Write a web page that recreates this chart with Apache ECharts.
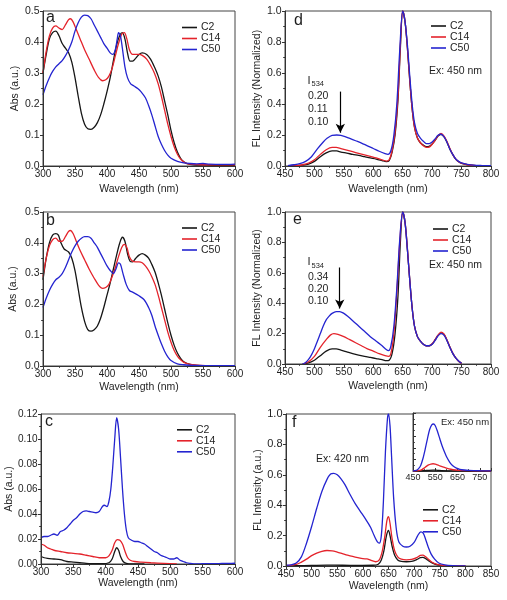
<!DOCTYPE html>
<html><head><meta charset="utf-8">
<script src="https://cdn.jsdelivr.net/npm/echarts@6/dist/echarts.min.js"></script>
<style>html,body{margin:0;padding:0;background:#fff}#c{width:507px;height:600px}</style>
</head><body><div id="c"></div>
<script>
// ---------- DATA ----------
const seriesNames = ['C2', 'C14', 'C50'];
const absRangeX = [300, 600, 50];
const flRangeX = [450, 800, 50];
const flRangeXf = [450, 850, 50];
const insetRangeX = [450, 800, 100];
const absRangeY = [0, 0.5, 0.1];
const absRangeYc = [0, 0.12, 0.02];
const flRangeY = [0, 1.0, 0.2];

// panel a: absorbance
const a_C2 = [[300,0.30],[305,0.36],[310,0.41],[315,0.43],[320,0.435],[325,0.42],[330,0.395],[335,0.38],[340,0.365],[345,0.335],[350,0.285],[355,0.225],[360,0.17],[365,0.135],[370,0.12],[375,0.118],[380,0.125],[385,0.14],[390,0.165],[395,0.2],[400,0.24],[405,0.285],[410,0.34],[415,0.39],[420,0.422],[424,0.43],[428,0.41],[432,0.365],[436,0.338],[440,0.338],[445,0.348],[450,0.36],[455,0.365],[462,0.36],[468,0.345],[474,0.32],[480,0.29],[485,0.255],[490,0.21],[495,0.165],[500,0.115],[505,0.075],[510,0.045],[515,0.025],[520,0.014],[525,0.008],[535,0.004],[550,0.003],[575,0.002],[600,0.002]];
const a_C14 = [[300,0.30],[305,0.37],[310,0.42],[315,0.445],[320,0.452],[325,0.445],[330,0.44],[335,0.455],[340,0.472],[343,0.475],[347,0.465],[352,0.44],[358,0.41],[365,0.375],[372,0.345],[380,0.31],[387,0.285],[393,0.275],[398,0.278],[403,0.29],[408,0.315],[413,0.355],[418,0.395],[423,0.425],[427,0.43],[431,0.41],[435,0.375],[440,0.36],[445,0.36],[450,0.36],[455,0.357],[462,0.345],[468,0.325],[474,0.3],[480,0.265],[485,0.225],[490,0.18],[495,0.135],[500,0.095],[505,0.062],[510,0.038],[515,0.022],[520,0.013],[525,0.008],[535,0.005],[550,0.004],[600,0.004]];
const a_C50 = [[300,0.23],[305,0.26],[310,0.285],[315,0.305],[320,0.32],[325,0.33],[330,0.34],[335,0.355],[340,0.375],[345,0.40],[350,0.435],[355,0.462],[360,0.48],[365,0.487],[370,0.485],[375,0.475],[380,0.455],[385,0.435],[390,0.415],[395,0.395],[400,0.38],[405,0.365],[409,0.36],[413,0.375],[416,0.41],[418,0.43],[421,0.42],[424,0.38],[428,0.32],[432,0.285],[437,0.265],[442,0.258],[448,0.25],[453,0.24],[460,0.22],[465,0.195],[470,0.165],[475,0.13],[480,0.095],[485,0.07],[490,0.05],[495,0.035],[500,0.025],[510,0.015],[520,0.01],[530,0.008],[540,0.007],[550,0.008],[560,0.006],[580,0.005],[600,0.006]];

// panel b: absorbance
const b_C2 = [[300,0.28],[305,0.35],[310,0.40],[315,0.425],[320,0.43],[324,0.425],[328,0.40],[333,0.38],[340,0.37],[345,0.35],[350,0.31],[355,0.25],[360,0.19],[365,0.145],[370,0.118],[375,0.113],[380,0.118],[385,0.13],[390,0.155],[395,0.19],[400,0.23],[405,0.27],[410,0.315],[415,0.36],[420,0.40],[424,0.418],[428,0.405],[432,0.365],[436,0.34],[440,0.338],[445,0.35],[450,0.36],[455,0.365],[460,0.36],[465,0.35],[470,0.33],[475,0.305],[480,0.27],[485,0.23],[490,0.185],[495,0.14],[500,0.10],[505,0.067],[510,0.042],[515,0.025],[520,0.014],[530,0.005],[540,0.002],[560,0.001],[600,0.001]];
const b_C14 = [[300,0.29],[305,0.35],[310,0.39],[315,0.41],[320,0.415],[325,0.405],[330,0.405],[335,0.42],[340,0.437],[343,0.44],[347,0.43],[352,0.405],[358,0.375],[365,0.345],[372,0.315],[380,0.285],[387,0.262],[393,0.252],[398,0.255],[403,0.265],[408,0.29],[413,0.32],[418,0.355],[423,0.385],[427,0.395],[431,0.385],[435,0.355],[440,0.34],[445,0.338],[450,0.338],[455,0.335],[460,0.325],[465,0.31],[470,0.29],[475,0.265],[480,0.23],[485,0.19],[490,0.15],[495,0.11],[500,0.077],[505,0.05],[510,0.032],[515,0.02],[520,0.012],[530,0.005],[545,0.002],[600,0.001]];
const b_C50 = [[300,0.19],[305,0.22],[310,0.245],[315,0.265],[320,0.28],[325,0.288],[330,0.30],[335,0.32],[340,0.345],[345,0.37],[350,0.39],[355,0.405],[360,0.415],[365,0.42],[370,0.42],[375,0.415],[380,0.40],[385,0.385],[390,0.365],[395,0.345],[400,0.325],[405,0.31],[410,0.30],[414,0.315],[418,0.335],[421,0.33],[425,0.30],[430,0.265],[435,0.245],[440,0.24],[450,0.228],[458,0.215],[465,0.19],[470,0.165],[475,0.13],[480,0.10],[485,0.072],[490,0.048],[495,0.03],[500,0.018],[510,0.007],[520,0.004],[535,0.002],[600,0.001]];

// panel c: absorbance (dilute)
const c_C2 = [[300,0.006],[305,0.005],[310,0.0045],[320,0.004],[330,0.0035],[340,0.002],[350,0.0015],[360,0.001],[370,0.0005],[380,0.0003],[395,0.0002],[405,0.001],[410,0.004],[414,0.010],[417,0.013],[420,0.011],[423,0.006],[427,0.002],[432,0.0005],[440,0],[460,0]];
const c_C14 = [[300,0.016],[305,0.015],[310,0.013],[315,0.012],[320,0.011],[330,0.010],[340,0.009],[350,0.0085],[360,0.008],[370,0.007],[380,0.006],[390,0.005],[400,0.005],[405,0.0065],[410,0.011],[414,0.017],[418,0.0195],[422,0.019],[426,0.016],[430,0.010],[434,0.005],[438,0.003],[445,0.002],[455,0.0015],[470,0.001],[490,0.0005],[510,0]];
const c_C50 = [[300,0.021],[305,0.022],[310,0.022],[315,0.023],[320,0.024],[325,0.023],[330,0.026],[335,0.027],[340,0.029],[345,0.032],[350,0.035],[355,0.037],[360,0.040],[365,0.042],[370,0.0425],[375,0.042],[380,0.0415],[385,0.041],[390,0.042],[395,0.046],[398,0.047],[402,0.046],[405,0.050],[408,0.060],[411,0.078],[414,0.100],[417,0.117],[420,0.108],[423,0.085],[426,0.060],[429,0.040],[432,0.027],[435,0.021],[440,0.019],[445,0.018],[450,0.018],[455,0.017],[460,0.016],[465,0.014],[470,0.012],[475,0.010],[480,0.009],[485,0.007],[490,0.006],[495,0.005],[500,0.004],[505,0.004],[510,0.005],[515,0.003],[520,0.002],[525,0.001],[530,0.0005],[540,0],[550,0.0002],[560,0.0002],[570,0.0003],[580,0.0004],[590,0.0005],[600,0.0006]];

// panel d: normalized FL (Ex 450)
const d_C2 = [[455,0.001],[470,0.002],[480,0.005],[490,0.012],[500,0.03],[510,0.06],[520,0.085],[530,0.098],[538,0.097],[545,0.09],[555,0.083],[565,0.075],[575,0.068],[585,0.06],[595,0.052],[605,0.045],[615,0.035],[622,0.028],[627,0.035],[632,0.09],[637,0.2],[642,0.43],[646,0.76],[650,1.0],[654,0.93],[658,0.76],[662,0.55],[666,0.37],[670,0.25],[675,0.18],[680,0.15],[685,0.135],[690,0.125],[695,0.127],[700,0.142],[705,0.165],[710,0.193],[715,0.205],[720,0.19],[725,0.155],[730,0.11],[735,0.073],[740,0.044],[745,0.027],[750,0.017],[760,0.008],[775,0.003],[800,0.001]];
const d_C14 = [[455,0.001],[470,0.003],[480,0.008],[490,0.018],[500,0.04],[510,0.075],[520,0.105],[530,0.12],[537,0.12],[545,0.112],[555,0.102],[565,0.092],[575,0.082],[585,0.072],[595,0.062],[605,0.052],[615,0.04],[622,0.032],[627,0.04],[632,0.1],[637,0.22],[642,0.45],[646,0.78],[650,1.0],[654,0.93],[658,0.76],[662,0.55],[666,0.37],[670,0.25],[675,0.18],[680,0.15],[685,0.13],[690,0.12],[695,0.122],[700,0.14],[705,0.165],[710,0.195],[715,0.21],[720,0.195],[725,0.16],[730,0.115],[735,0.075],[740,0.045],[745,0.028],[750,0.018],[760,0.008],[775,0.003],[800,0.001]];
const d_C50 = [[455,0.003],[465,0.008],[475,0.015],[485,0.03],[495,0.06],[505,0.11],[515,0.155],[522,0.18],[530,0.198],[538,0.2],[545,0.198],[552,0.19],[560,0.178],[570,0.163],[580,0.148],[590,0.13],[600,0.113],[610,0.095],[620,0.08],[625,0.075],[630,0.1],[635,0.2],[640,0.4],[645,0.75],[650,1.0],[654,0.93],[658,0.78],[662,0.58],[666,0.4],[670,0.28],[675,0.21],[680,0.18],[685,0.16],[690,0.145],[695,0.145],[700,0.155],[705,0.175],[710,0.198],[715,0.205],[720,0.19],[725,0.155],[730,0.11],[735,0.075],[740,0.045],[745,0.03],[750,0.02],[760,0.01],[770,0.005],[785,0.003],[800,0.002]];

// panel e: normalized FL (Ex 450)
const e_C2 = [[480,0],[490,0.008],[500,0.025],[510,0.055],[520,0.085],[530,0.1],[537,0.1],[545,0.092],[555,0.08],[565,0.068],[575,0.058],[585,0.05],[595,0.043],[605,0.036],[615,0.029],[622,0.022],[627,0.025],[632,0.07],[637,0.2],[642,0.45],[646,0.8],[650,1.0],[654,0.93],[658,0.75],[662,0.55],[666,0.37],[670,0.25],[675,0.18],[680,0.15],[685,0.13],[690,0.12],[695,0.12],[700,0.132],[705,0.158],[710,0.188],[715,0.205],[720,0.195],[725,0.158],[730,0.112],[735,0.07],[740,0.04],[745,0.018],[750,0.004]];
const e_C14 = [[480,0],[490,0.015],[500,0.05],[510,0.11],[520,0.16],[527,0.19],[533,0.2],[540,0.195],[550,0.18],[560,0.16],[570,0.14],[580,0.12],[590,0.1],[600,0.085],[610,0.068],[620,0.055],[626,0.05],[630,0.07],[635,0.2],[640,0.47],[645,0.8],[650,1.0],[654,0.93],[658,0.76],[662,0.55],[666,0.37],[670,0.25],[675,0.18],[680,0.15],[685,0.13],[690,0.12],[695,0.12],[700,0.133],[705,0.16],[710,0.19],[715,0.21],[720,0.198],[725,0.16],[730,0.113],[735,0.072],[740,0.04],[745,0.018],[750,0.004]];
const e_C50 = [[480,0],[485,0.01],[490,0.03],[495,0.06],[500,0.1],[505,0.15],[510,0.2],[515,0.25],[520,0.29],[525,0.315],[530,0.333],[537,0.345],[543,0.345],[550,0.333],[557,0.312],[565,0.285],[575,0.25],[585,0.215],[595,0.18],[605,0.15],[615,0.12],[622,0.095],[626,0.088],[630,0.12],[635,0.25],[640,0.5],[645,0.82],[650,1.0],[654,0.93],[658,0.75],[662,0.55],[666,0.37],[670,0.25],[675,0.18],[680,0.15],[685,0.13],[690,0.12],[695,0.12],[700,0.13],[705,0.155],[710,0.185],[715,0.2],[720,0.19],[725,0.155],[730,0.11],[735,0.07],[740,0.04],[745,0.02],[750,0.005]];

// panel f: FL intensity (Ex 420)
const f_C2 = [[450,0],[470,0.002],[500,0.004],[530,0.006],[560,0.005],[590,0.004],[620,0.005],[630,0.012],[636,0.04],[641,0.1],[646,0.2],[650,0.235],[653,0.2],[657,0.13],[662,0.07],[668,0.04],[675,0.03],[685,0.028],[695,0.03],[705,0.042],[712,0.055],[717,0.057],[722,0.05],[728,0.035],[735,0.02],[745,0.008],[760,0.002],[800,0]];
const f_C14 = [[450,0.002],[470,0.01],[480,0.025],[490,0.045],[500,0.068],[510,0.085],[520,0.097],[530,0.102],[540,0.1],[550,0.092],[560,0.082],[570,0.072],[580,0.063],[590,0.055],[600,0.048],[608,0.047],[615,0.038],[625,0.028],[632,0.04],[638,0.1],[643,0.2],[647,0.3],[650,0.325],[653,0.28],[657,0.18],[662,0.1],[668,0.06],[675,0.045],[685,0.04],[695,0.043],[705,0.055],[712,0.07],[717,0.072],[722,0.062],[728,0.045],[735,0.025],[745,0.01],[760,0.003],[800,0]];
const f_C50 = [[450,0.005],[460,0.008],[470,0.02],[480,0.06],[490,0.15],[500,0.26],[510,0.38],[520,0.49],[530,0.57],[537,0.605],[543,0.61],[550,0.6],[557,0.575],[565,0.535],[575,0.47],[585,0.41],[595,0.36],[605,0.31],[615,0.255],[622,0.2],[628,0.16],[632,0.15],[636,0.2],[640,0.42],[644,0.75],[648,0.97],[650,1.0],[653,0.92],[656,0.72],[660,0.45],[665,0.25],[670,0.16],[678,0.13],[685,0.125],[692,0.13],[700,0.155],[707,0.2],[713,0.225],[718,0.215],[723,0.17],[728,0.12],[733,0.08],[740,0.045],[748,0.02],[760,0.008],[775,0.003],[800,0]];

// inset of f: FL intensity (Ex 450)
const i_C2 = [[450,0],[480,0.002],[500,0.005],[520,0.012],[540,0.016],[560,0.012],[580,0.008],[620,0.003],[700,0],[800,0]];
const i_C14 = [[450,0],[470,0.004],[480,0.01],[490,0.025],[500,0.05],[510,0.08],[520,0.105],[530,0.12],[540,0.125],[550,0.118],[560,0.105],[570,0.09],[580,0.075],[600,0.05],[620,0.03],[640,0.017],[660,0.01],[700,0.005],[750,0.002],[800,0]];
const i_C50 = [[450,0],[465,0.01],[475,0.04],[485,0.1],[495,0.22],[505,0.38],[515,0.56],[525,0.72],[535,0.8],[542,0.81],[550,0.78],[560,0.68],[570,0.56],[580,0.44],[590,0.34],[600,0.25],[615,0.15],[630,0.085],[645,0.05],[660,0.03],[680,0.017],[700,0.01],[750,0.004],[800,0.002]];

// I534 annotation values
const dI534 = ['0.20', '0.11', '0.10'];
const eI534 = ['0.34', '0.20', '0.10'];

// ---------- CHART ----------
const FF = '"Liberation Sans", Arial, Helvetica, sans-serif';
const colors = ['#161616', '#e4232b', '#2424d0'];
const TXT = '#1e1e1e';

// panel order: 0 a, 1 d, 2 b, 3 e, 4 c, 5 f, 6 inset
const grids = [
  {left: 43, top: 11, width: 192, height: 155},
  {left: 285, top: 11, width: 206, height: 155},
  {left: 43, top: 212, width: 192, height: 154},
  {left: 285, top: 212, width: 206, height: 152},
  {left: 41, top: 414, width: 194, height: 150},
  {left: 286, top: 414, width: 205, height: 152},
  {left: 413, top: 413, width: 78, height: 58}
];

function xAx(gi, rng, nameGap, opt) {
  opt = opt || {};
  const inside = !!opt.inside;
  return {
    gridIndex: gi, type: 'value', min: rng[0], max: rng[1], interval: rng[2],
    name: opt.noName ? '' : 'Wavelength (nm)', nameLocation: 'middle', nameGap: nameGap,
    nameTextStyle: {fontSize: 10.5, color: TXT, fontFamily: FF},
    axisLine: {show: true, lineStyle: {color: '#333', width: 1}},
    axisTick: {show: true, inside: inside, length: opt.tickLen || 3, lineStyle: {color: '#333'}},
    minorTick: {show: true, splitNumber: 2, length: 1.8, lineStyle: {color: '#333'}},
    axisLabel: {fontSize: opt.fs || 10, color: TXT, fontFamily: FF, margin: opt.margin || 3,
      showMaxLabel: opt.hideMax ? false : true, hideOverlap: false},
    splitLine: {show: false}, z: opt.z || 3
  };
}
function yAx(gi, rng, name, nameGap, dec, opt) {
  opt = opt || {};
  const inside = !!opt.inside;
  return {
    gridIndex: gi, type: 'value', min: rng[0], max: rng[1], interval: rng[2],
    name: name, nameLocation: 'middle', nameGap: nameGap,
    nameTextStyle: {fontSize: 10.5, color: TXT, fontFamily: FF},
    axisLine: {show: true, lineStyle: {color: '#333', width: 1}},
    axisTick: {show: true, inside: inside, length: opt.tickLen || 3, lineStyle: {color: '#333'}},
    minorTick: {show: true, splitNumber: 2, length: 1.8, lineStyle: {color: '#333'}},
    axisLabel: {show: !opt.noLabel, fontSize: opt.fs || 10.5, color: TXT, fontFamily: FF, margin: 3.5,
      formatter: v => v.toFixed(dec), hideOverlap: false},
    splitLine: {show: false}, z: opt.z || 3
  };
}

const xAxes = [
  xAx(0, absRangeX, 18), xAx(1, flRangeX, 18), xAx(2, absRangeX, 16),
  xAx(3, flRangeX, 17), xAx(4, absRangeX, 13), xAx(5, flRangeXf, 15),
  xAx(6, insetRangeX, 0, {noName: true, fs: 9, margin: 2, hideMax: true, tickLen: 3, z: 8, inside: true})
];
const yAxes = [
  yAx(0, absRangeY, 'Abs (a.u.)', 22, 1),
  yAx(1, flRangeY, 'FL Intensity (Normalized)', 21, 1),
  yAx(2, absRangeY, 'Abs (a.u.)', 24, 1),
  yAx(3, flRangeY, 'FL Intensity (Normalized)', 20.5, 1),
  yAx(4, absRangeYc, 'Abs (a.u.)', 24.5, 2, {fs: 10}),
  yAx(5, flRangeY, 'FL Intensity (a.u.)', 22, 1, {fs: 11}),
  yAx(6, flRangeY, '', 0, 1, {noLabel: true, tickLen: 3, z: 8, inside: true})
];

const panelData = [
  [a_C2, a_C14, a_C50], [d_C2, d_C14, d_C50], [b_C2, b_C14, b_C50],
  [e_C2, e_C14, e_C50], [c_C2, c_C14, c_C50], [f_C2, f_C14, f_C50],
  [i_C2, i_C14, i_C50]
];

const series = [];
panelData.forEach((arr, gi) => {
  arr.forEach((d, k) => {
    series.push({
      type: 'line', name: seriesNames[k], xAxisIndex: gi, yAxisIndex: gi, data: d,
      showSymbol: false, symbol: 'none', smooth: 0.3, color: colors[k],
      lineStyle: {width: 1.3, color: colors[k]}, itemStyle: {color: colors[k]},
      z: gi === 6 ? 9 : 2, emphasis: {disabled: true}
    });
  });
});
// arrows for panels d and e (on C50 series)
function arrow(y0, y1, x) {
  return {silent: true, symbol: ['none', 'arrow'], symbolSize: [7, 9], animation: false,
    lineStyle: {color: '#000', width: 1.2, type: 'solid'}, label: {show: false},
    emphasis: {disabled: true},
    data: [[{coord: [x, y0]}, {coord: [x, y1]}]]};
}
series[1 * 3 + 2].markLine = arrow(0.48, 0.215, 544);
series[3 * 3 + 2].markLine = arrow(0.635, 0.365, 543);

const legendPos = [
  {left: 182, top: 22, lh: 7.5}, {left: 431, top: 20.5, lh: 8}, {left: 182, top: 222.5, lh: 8.3},
  {left: 433, top: 223.5, lh: 8}, {left: 177, top: 424.3, lh: 10}, {left: 423, top: 504.3, lh: 7.6}
];
const legends = legendPos.map(p => ({
  data: seriesNames, orient: 'vertical', left: p.left, top: p.top, padding: 0,
  itemGap: 0, itemWidth: 15, itemHeight: 1.6, icon: 'rect', selectedMode: false,
  textStyle: {fontSize: 10.5, color: TXT, fontFamily: FF, lineHeight: p.lh, padding: [0, 0, 0, -1]}
}));

function txt(x, y, s, fs) {
  return {type: 'text', x: x, y: y, z: 20, silent: true,
    style: {text: s, fontSize: fs, fontFamily: FF, fill: TXT, verticalAlign: 'middle', align: 'left'}};
}
const L = 16;
const graphics = [
  txt(46, 17.5, 'a', L), txt(294, 21, 'd', L), txt(46, 221, 'b', L),
  txt(293, 219.5, 'e', L), txt(45, 421.5, 'c', L), txt(292, 422.5, 'f', L),
  txt(429, 71.3, 'Ex: 450 nm', 10.5), txt(429, 265.3, 'Ex: 450 nm', 10.5),
  txt(316, 459.6, 'Ex: 420 nm', 10.5), txt(441, 422.4, 'Ex: 450 nm', 9.5),
  // I534 panel d
  txt(307.5, 80.5, 'I', 11), txt(311.5, 84, '534', 7.5),
  txt(308, 96.3, dI534[0], 10.5), txt(308, 109.3, dI534[1], 10.5), txt(308, 122.3, dI534[2], 10.5),
  // I534 panel e
  txt(307.5, 262, 'I', 11), txt(311.5, 265.5, '534', 7.5),
  txt(308, 276.8, eI534[0], 10.5), txt(308, 289, eI534[1], 10.5), txt(308, 301.3, eI534[2], 10.5)
];

const option = {
  animation: false,
  backgroundColor: '#fff',
  textStyle: {fontFamily: FF},
  grid: grids.map((g, i) => Object.assign({}, g, {
    show: true, borderColor: '#444', borderWidth: 1,
    backgroundColor: i === 6 ? '#fff' : 'transparent', z: i === 6 ? 7 : 0, containLabel: false
  })),
  xAxis: xAxes, yAxis: yAxes, series: series, legend: legends,
  graphic: graphics
};
const chart = echarts.init(document.getElementById('c'), null, {renderer: 'canvas'});
chart.setOption(option);
</script></body></html>
